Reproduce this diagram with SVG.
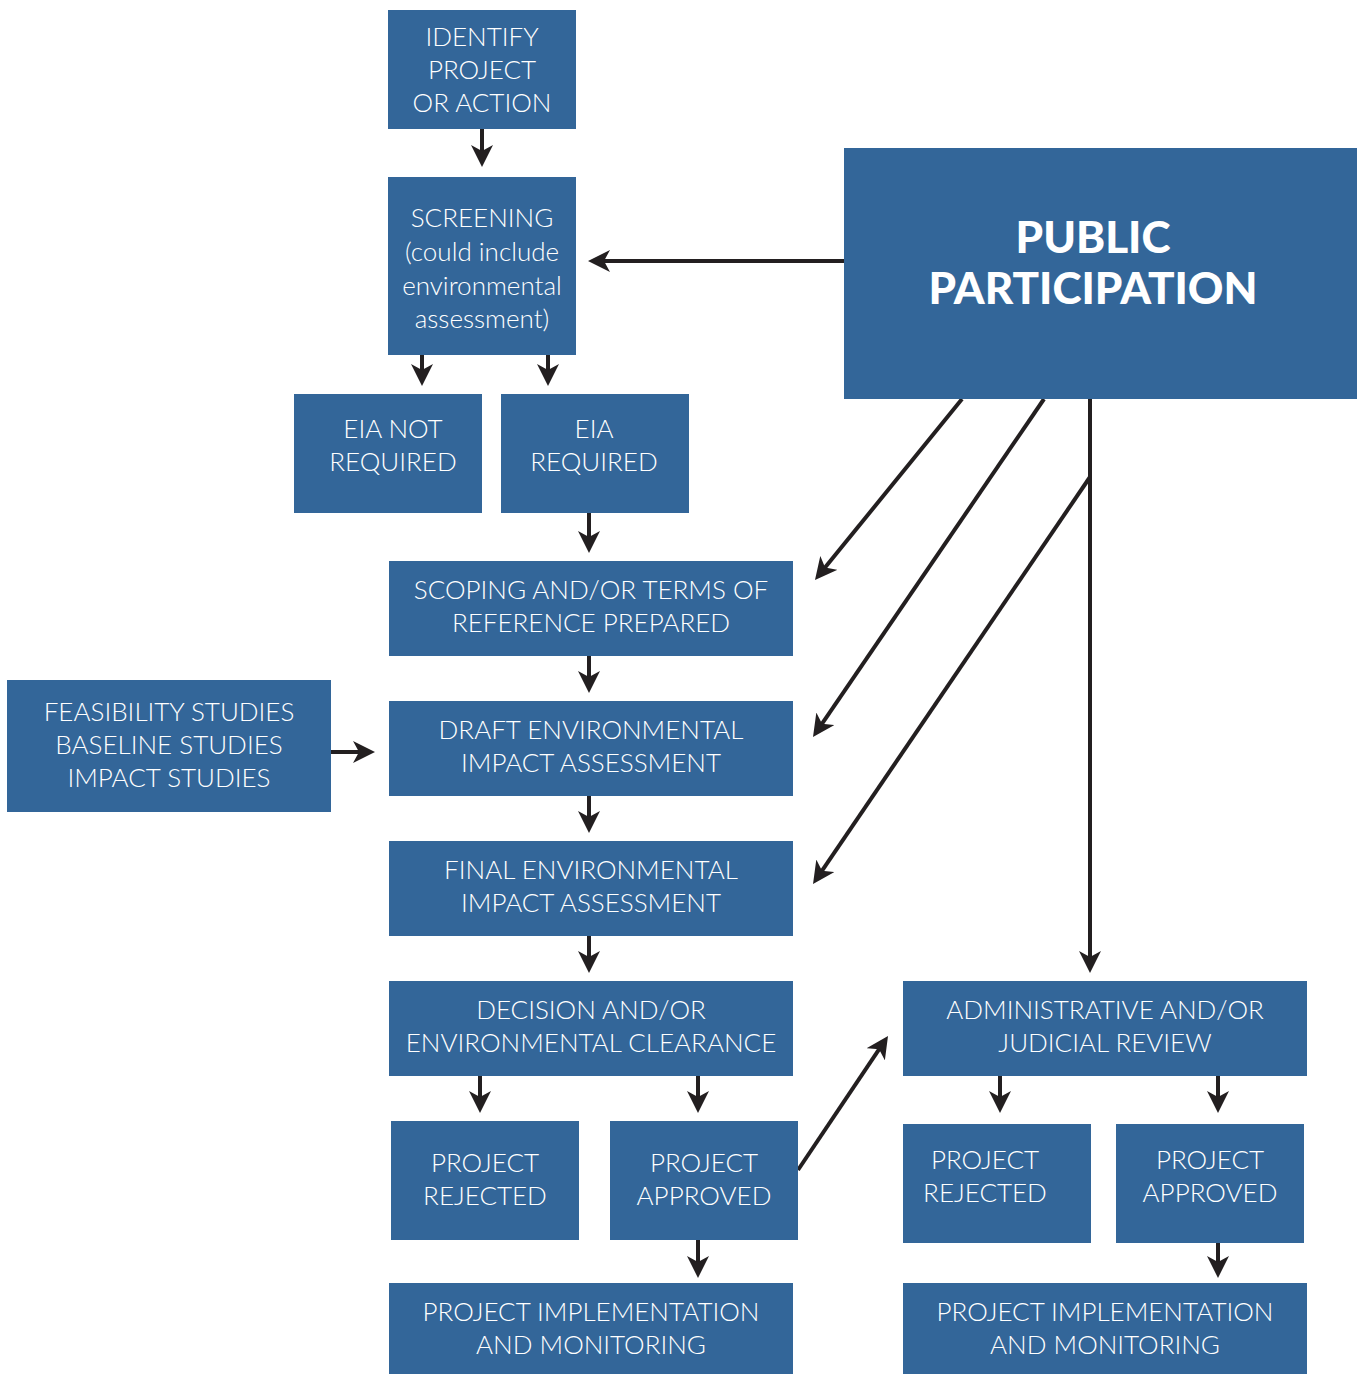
<svg xmlns="http://www.w3.org/2000/svg" width="1357" height="1374" viewBox="0 0 1357 1374">
<style>
.box{fill:#336699}
.t{font-family:Lato,"Open Sans","DejaVu Sans",sans-serif;font-size:26px;font-weight:300;fill:#ffffff;text-anchor:middle;dominant-baseline:central}
.big{font-family:Lato,"Open Sans","DejaVu Sans",sans-serif;font-size:44px;font-weight:900;fill:#ffffff;text-anchor:middle;dominant-baseline:central}
.c{stroke:#231f20;stroke-width:4;fill:none}
.a{marker-end:url(#ah)}
</style>
<defs>
<marker id="ah" viewBox="0 0 22 22" refX="8" refY="11" markerWidth="22" markerHeight="22" markerUnits="userSpaceOnUse" orient="auto">
<path d="M0,0 L22,11 L0,22 L6,11 z" fill="#231f20"/>
</marker>
</defs>
<rect width="1357" height="1374" fill="#ffffff"/>
<g id="connectors">
<path class="c a" d="M482,129 V153"/>
<path class="c a" d="M422,355 V372"/>
<path class="c a" d="M548,355 V372"/>
<path class="c a" d="M589,513 V539"/>
<path class="c a" d="M589,656 V679"/>
<path class="c a" d="M589,796 V819"/>
<path class="c a" d="M589,936 V959"/>
<path class="c a" d="M480,1076 V1099"/>
<path class="c a" d="M698,1076 V1099"/>
<path class="c a" d="M698,1240 V1264"/>
<path class="c a" d="M1000,1076 V1099"/>
<path class="c a" d="M1218,1076 V1099"/>
<path class="c a" d="M1218,1243 V1264"/>
<path class="c a" d="M844,261 H602"/>
<path class="c a" d="M331,752 H361"/>
<path class="c a" d="M962,399 L823.8,569.1"/>
<path class="c a" d="M1044,399 L820.9,725.4"/>
<path class="c a" d="M1090,477 L820.9,872.4"/>
<path class="c a" d="M1090,399 V959"/>
<path class="c a" d="M798,1170 L880.2,1047.6"/>
</g>
<g id="identify"><rect class="box" x="388" y="10" width="188" height="119"/>
<text class="t" x="482" y="36">IDENTIFY</text><text class="t" x="482" y="69">PROJECT</text><text class="t" x="482" y="102">OR ACTION</text></g>
<g id="screening"><rect class="box" x="388" y="177" width="188" height="178"/>
<text class="t" x="482" y="217">SCREENING</text><text class="t" x="482" y="251">(could include</text><text class="t" x="482" y="285">environmental</text><text class="t" x="482" y="318">assessment)</text></g>
<g id="eia-not"><rect class="box" x="294" y="394" width="188" height="119"/>
<text class="t" x="393" y="428">EIA NOT</text><text class="t" x="393" y="461">REQUIRED</text></g>
<g id="eia-req"><rect class="box" x="501" y="394" width="188" height="119"/>
<text class="t" x="594" y="428">EIA</text><text class="t" x="594" y="461">REQUIRED</text></g>
<g id="scoping"><rect class="box" x="389" y="561" width="404" height="95"/>
<text class="t" x="591" y="589">SCOPING AND/OR TERMS OF</text><text class="t" x="591" y="622">REFERENCE PREPARED</text></g>
<g id="draft"><rect class="box" x="389" y="701" width="404" height="95"/>
<text class="t" x="591" y="729">DRAFT ENVIRONMENTAL</text><text class="t" x="591" y="762">IMPACT ASSESSMENT</text></g>
<g id="final"><rect class="box" x="389" y="841" width="404" height="95"/>
<text class="t" x="591" y="869">FINAL ENVIRONMENTAL</text><text class="t" x="591" y="902">IMPACT ASSESSMENT</text></g>
<g id="decision"><rect class="box" x="389" y="981" width="404" height="95"/>
<text class="t" x="591" y="1009">DECISION AND/OR</text><text class="t" x="591" y="1042">ENVIRONMENTAL CLEARANCE</text></g>
<g id="rejected1"><rect class="box" x="391" y="1121" width="188" height="119"/>
<text class="t" x="485" y="1162">PROJECT</text><text class="t" x="485" y="1195">REJECTED</text></g>
<g id="approved1"><rect class="box" x="610" y="1121" width="188" height="119"/>
<text class="t" x="704" y="1162">PROJECT</text><text class="t" x="704" y="1195">APPROVED</text></g>
<g id="impl1"><rect class="box" x="389" y="1283" width="404" height="91"/>
<text class="t" x="591" y="1311">PROJECT IMPLEMENTATION</text><text class="t" x="591" y="1344">AND MONITORING</text></g>
<g id="feasibility"><rect class="box" x="7" y="680" width="324" height="132"/>
<text class="t" x="169" y="711">FEASIBILITY STUDIES</text><text class="t" x="169" y="744">BASELINE STUDIES</text><text class="t" x="169" y="777">IMPACT STUDIES</text></g>
<g id="public"><rect class="box" x="844" y="148" width="513" height="251"/>
<text class="big" x="1093" y="236">PUBLIC</text><text class="big" x="1093" y="287">PARTICIPATION</text></g>
<g id="review"><rect class="box" x="903" y="981" width="404" height="95"/>
<text class="t" x="1105" y="1009">ADMINISTRATIVE AND/OR</text><text class="t" x="1105" y="1042">JUDICIAL REVIEW</text></g>
<g id="rejected2"><rect class="box" x="903" y="1124" width="188" height="119"/>
<text class="t" x="985" y="1159">PROJECT</text><text class="t" x="985" y="1192">REJECTED</text></g>
<g id="approved2"><rect class="box" x="1116" y="1124" width="188" height="119"/>
<text class="t" x="1210" y="1159">PROJECT</text><text class="t" x="1210" y="1192">APPROVED</text></g>
<g id="impl2"><rect class="box" x="903" y="1283" width="404" height="91"/>
<text class="t" x="1105" y="1311">PROJECT IMPLEMENTATION</text><text class="t" x="1105" y="1344">AND MONITORING</text></g>
</svg>
